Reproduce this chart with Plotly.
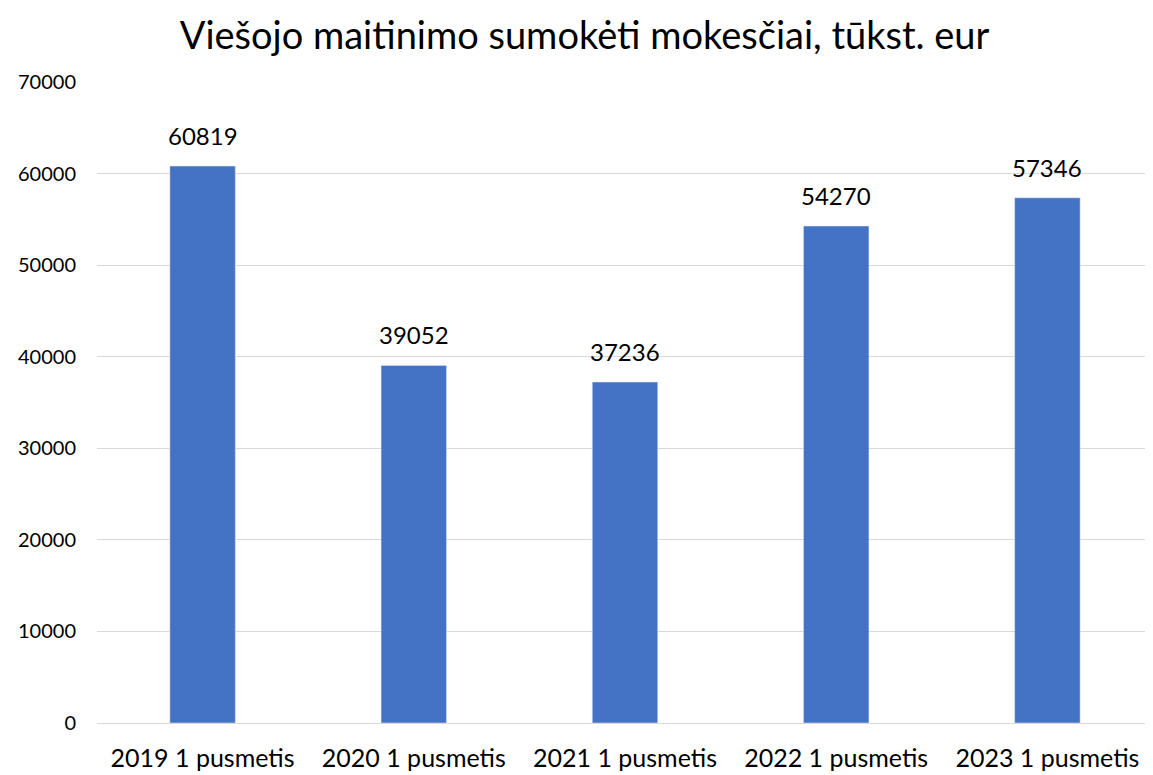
import plotly.graph_objects as go

categories = ["2019 1 pusmetis", "2020 1 pusmetis", "2021 1 pusmetis", "2022 1 pusmetis", "2023 1 pusmetis"]
values = [60819, 39052, 37236, 54270, 57346]
title = "Viešojo maitinimo sumokėti mokesčiai, tūkst. eur"

fig = go.Figure(go.Bar(
    x=categories, y=values, marker_color="#4472C4",
))
for c, v in zip(categories, values):
    fig.add_annotation(x=c, y=v, text=str(v), showarrow=False, yanchor="bottom",
                       yshift=14, font=dict(size=24, color="#000000"))
fig.update_layout(
    width=1153, height=775,
    margin=dict(l=89, r=8, t=74, b=60),
    paper_bgcolor="white", plot_bgcolor="white",
    font=dict(family="Lato, Open Sans, sans-serif", color="#000000"),
    title=dict(text=title, x=0.5, xanchor="center", y=0.964, yanchor="middle",
               font=dict(size=38, color="#000000")),
    bargap=0.69, showlegend=False,
    xaxis=dict(tickfont=dict(size=25), showline=True, linecolor="#d9d9d9",
               ticks="outside", ticklen=13, tickcolor="white"),
    yaxis=dict(range=[0, 70000], dtick=10000, tickformat="d", gridcolor="#d9d9d9",
               zeroline=False, tickfont=dict(size=20),
               ticks="outside", ticklen=16, tickcolor="white"),
)
fig.write_html("out.html")
